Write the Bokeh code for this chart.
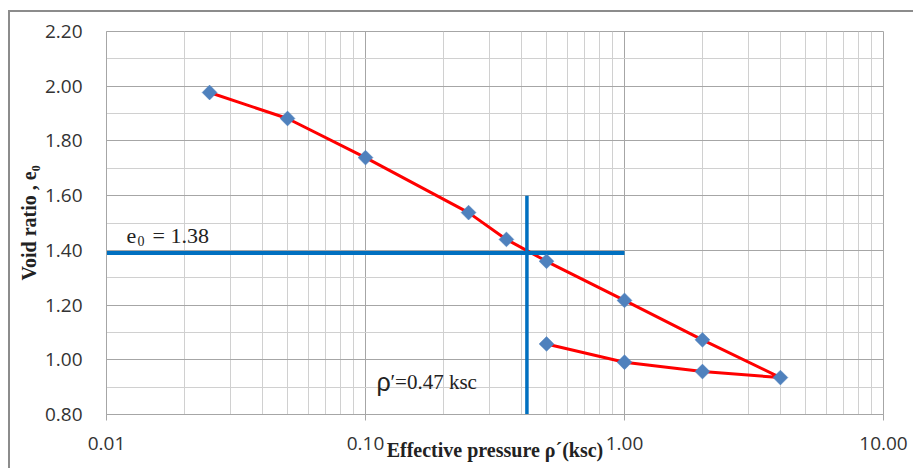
import math
from bokeh.plotting import figure
from bokeh.models import Range1d, FixedTicker, PrintfTickFormatter, Label, ColumnDataSource
from bokeh.embed import file_html
from bokeh.resources import INLINE

# ---- data ----
pressure = [0.025, 0.05, 0.1, 0.25, 0.35, 0.5, 1.0, 2.0, 4.0, 2.0, 1.0, 0.5]
void_ratio = [1.977, 1.882, 1.739, 1.538, 1.44, 1.36, 1.217, 1.073, 0.935, 0.957, 0.991, 1.058]

e0_level = [1.39]          # horizontal construction line (labelled e0 = 1.38)
e0_span = [0.01, 1.0]      # x-extent of the horizontal line
pc_value = [0.42]          # vertical construction line (labelled 0.47 ksc)
pc_span = [0.8, 1.6]       # y-extent of the vertical line

x_major = [0.01, 0.1, 1.0, 10.0]
x_minor = [m * d for d in (0.01, 0.1, 1.0) for m in range(2, 10)]
y_major = [0.8, 1.0, 1.2, 1.4, 1.6, 1.8, 2.0, 2.2]
y_minor = [0.9, 1.1, 1.3, 1.5, 1.7, 1.9, 2.1]

x_title = "Effective pressure ρ´(ksc)"
y_title = "Void ratio , e₀"

# ---- figure ----
p = figure(x_axis_type="log", x_range=Range1d(0.01, 10), y_range=Range1d(0.8, 2.2),
           frame_width=777, frame_height=383,
           min_border_left=96, min_border_right=30, min_border_top=19, min_border_bottom=54,
           output_backend="svg", toolbar_location=None)
p.styles = {"border-left": "2px solid #8c8c8c", "border-top": "2px solid #8c8c8c",
            "margin-left": "8px", "margin-top": "10px"}
p.background_fill_color = "white"
p.border_fill_color = "white"
p.outline_line_color = "#a6a6a6"

p.xaxis.ticker = FixedTicker(ticks=x_major, minor_ticks=x_minor)
p.yaxis.ticker = FixedTicker(ticks=y_major, minor_ticks=y_minor)
p.xaxis.formatter = PrintfTickFormatter(format="%.2f")
p.yaxis.formatter = PrintfTickFormatter(format="%.2f")

for ax in (p.xaxis, p.yaxis):
    ax.axis_line_color = "#a6a6a6"
    ax.minor_tick_line_color = None
    ax.major_label_text_font = "Open Sans"
    ax.major_label_text_font_size = "19px"
    ax.major_label_text_color = "#333333"
    ax.axis_label_text_font = "Liberation Serif"
    ax.axis_label_text_font_style = "bold"
    ax.axis_label_text_font_size = "20px"
    ax.axis_label_text_color = "#222222"
p.xaxis.major_tick_line_color = "#a6a6a6"
p.xaxis.major_tick_out = 6
p.xaxis.major_tick_in = 0
p.xaxis.major_label_standoff = 16
p.yaxis.major_tick_line_color = None
p.yaxis.major_label_standoff = 18

p.xaxis.axis_label = x_title
p.xaxis.axis_label_standoff = -14
p.yaxis.axis_label = y_title
p.yaxis.axis_label_standoff = 2

for g in (p.xgrid, p.ygrid):
    g.grid_line_color = "#a6a6a6"
    g.minor_grid_line_color = "#d0d0d0"

# ---- data series ----
src = ColumnDataSource(dict(x=pressure, y=void_ratio))
p.line("x", "y", source=src, line_color="#ff0000", line_width=3)

# construction lines
p.line(e0_span, [e0_level[0]] * 2, line_color="#0070c0", line_width=4)
p.line([pc_value[0]] * 2, pc_span, line_color="#0070c0", line_width=3.5)

p.scatter("x", "y", source=src, marker="square", angle=math.pi / 4, size=10.5,
          fill_color="#4f81bd", line_color="#4f81bd", line_width=0.5)

# ---- texts inside the plot ----
serif = "Liberation Serif"
sans = "Liberation Sans"

def lab(x, y, text, size, font=serif, color="#222222"):
    p.add_layout(Label(x=x, y=y, text=text, text_font=font, text_font_size=f"{size}px",
                       text_align="left", text_baseline="alphabetic", text_color=color))

# e0 = 1.38
lab(0.01195, 1.454, "e", 22)
lab(0.01318, 1.436, "0", 14)
lab(0.01505, 1.454, "= 1.38", 22)

# p' = 0.47 ksc
lab(0.1103, 0.917, "ρ", 25, font=sans)
lab(0.1249, 0.917, "′=0.47 ksc", 21)

open("out.html", "w").write(file_html(p, INLINE))
